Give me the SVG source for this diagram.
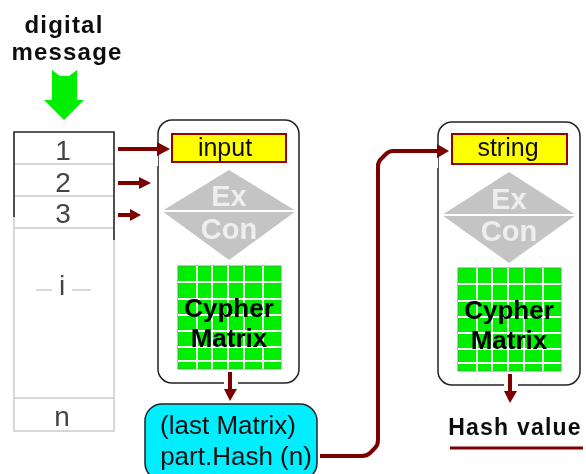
<svg xmlns="http://www.w3.org/2000/svg" width="586" height="474" viewBox="0 0 586 474">
<style>
text{font-family:"Liberation Sans",Arial,sans-serif;text-anchor:middle}
.lab{font-size:25px;fill:#111}
.big{font-size:26px;fill:#111}
.b{font-size:24px;font-weight:bold;fill:#111;letter-spacing:1.2px}
.num{font-size:28px;fill:#444}
.ec{font-size:29px;font-weight:bold;fill:#eee}
.cm{font-size:26px;font-weight:bold;fill:#000}
.frame{fill:#fff;stroke:#222;stroke-width:1.5}
.yb{fill:#ff0;stroke:#900;stroke-width:2}
.dm{fill:#c4c4c4}
.wl{stroke:#fff;stroke-width:2;fill:none}
.mx{fill:#0e0;stroke:#3b3;stroke-width:1}
.grid{stroke:#fff;stroke-width:1.8;fill:none}
.ln{stroke:#7c0000;stroke-width:4;fill:none}
.hd{fill:#7c0000}
.lg{stroke:#ccc;stroke-width:1.5;fill:none}
.dk{stroke:#222;stroke-width:1.5;fill:none}
</style>
<defs>
<g id="gridlines">
<path class="grid" d="M19 0V103M34 0V103M50 0V103M66 0V103M85 0V103M0 16H103M0 33H103M0 49H103M0 65H103M0 81H103M0 95H103"/>
</g>
<filter id="soft" x="0" y="0" width="100%" height="100%"><feGaussianBlur stdDeviation="0.35"/></filter>
</defs>
<g filter="url(#soft)">
<rect width="586" height="474" fill="#fff"/>
<g id="message-label">
<text class="b" x="64" y="33">digital</text>
<text class="b" x="67" y="60">message</text>
</g>
<g id="message-arrow">
<path d="M52 70L60 76H69L77 70V100H84L64 120L44 100H52Z" fill="#0e0"/>
</g>
<g id="blocks">
<path class="lg" d="M14 132V431H114V132M14 164H114M14 196H114M14 228H114M14 398H114"/>
<path class="dk" d="M14 217V132H114V240"/>
<text class="num" x="63" y="160">1</text>
<text class="num" x="63" y="192">2</text>
<text class="num" x="63" y="223">3</text>
<text class="num" x="62" y="295">i</text>
<path class="lg" d="M36 290H52M72 290H91"/>
<text class="num" x="62" y="426">n</text>
</g>
<g id="round-1">
<rect class="frame" x="158" y="120" width="141" height="263" rx="14"/>
<path d="M156 156V166M224 383H238" stroke="#fff" stroke-width="4" fill="none"/>
<rect class="yb" x="172" y="134" width="114" height="28"/>
<text class="lab" x="225" y="156">input</text>
<path class="dm" d="M229 170L296 211L229 260L162 211Z"/>
<path class="wl" d="M162 211H296"/>
<text class="ec" x="229" y="206">Ex</text>
<text class="ec" x="229" y="239">Con</text>
<rect class="mx" x="178" y="266" width="103" height="103"/>
<use href="#gridlines" x="178" y="266"/>
<text class="cm" x="229" y="317">Cypher</text>
<text class="cm" x="229" y="347">Matrix</text>
</g>
<g id="part-hash">
<rect x="145" y="404" width="172" height="76" rx="17" fill="#00eeff" stroke="#222" stroke-width="1.5"/>
<text class="big" x="228" y="434">(last Matrix)</text>
<text class="big" x="236" y="465">part.Hash (n)</text>
</g>
<g id="round-2">
<rect class="frame" x="438" y="122" width="142" height="263" rx="14"/>
<path d="M436 158V168M504 385H518" stroke="#fff" stroke-width="4" fill="none"/>
<rect class="yb" x="452" y="134" width="115" height="30"/>
<text class="lab" x="508" y="156">string</text>
<path class="dm" d="M509 172L576 215L509 263L442 215Z"/>
<path class="wl" d="M442 215H576"/>
<text class="ec" x="509" y="209">Ex</text>
<text class="ec" x="509" y="241">Con</text>
<rect class="mx" x="458" y="268" width="103" height="103"/>
<use href="#gridlines" x="458" y="268"/>
<text class="cm" x="509" y="319">Cypher</text>
<text class="cm" x="509" y="349">Matrix</text>
</g>
<g id="hash-value">
<text class="b" x="515" y="435" style="font-size:23px">Hash value</text>
<path class="ln" d="M450 448H583" style="stroke-width:3"/>
</g>
<g id="connectors">
<path class="ln" d="M118 149H160"/><path class="hd" d="M157 142L170 149L157 156Z"/>
<path class="ln" d="M118 183H142"/><path class="hd" d="M139 177L151 183L139 189Z"/>
<path class="ln" d="M118 215H132"/><path class="hd" d="M130 209L141 215L130 221Z"/>
<path class="ln" d="M230 372V392"/><path class="hd" d="M224 389H237L230 401Z"/>
<path class="ln" d="M510 374V394"/><path class="hd" d="M504 391H517L510 403Z"/>
<path class="ln" d="M320 456H362Q367 456 370 453L375 448Q378 445 378 440V166Q378 162 381 159L386 154Q389 151 393 151H442"/><path class="hd" d="M437 144L449 151L437 158Z"/>
</g>
</g>
</svg>
